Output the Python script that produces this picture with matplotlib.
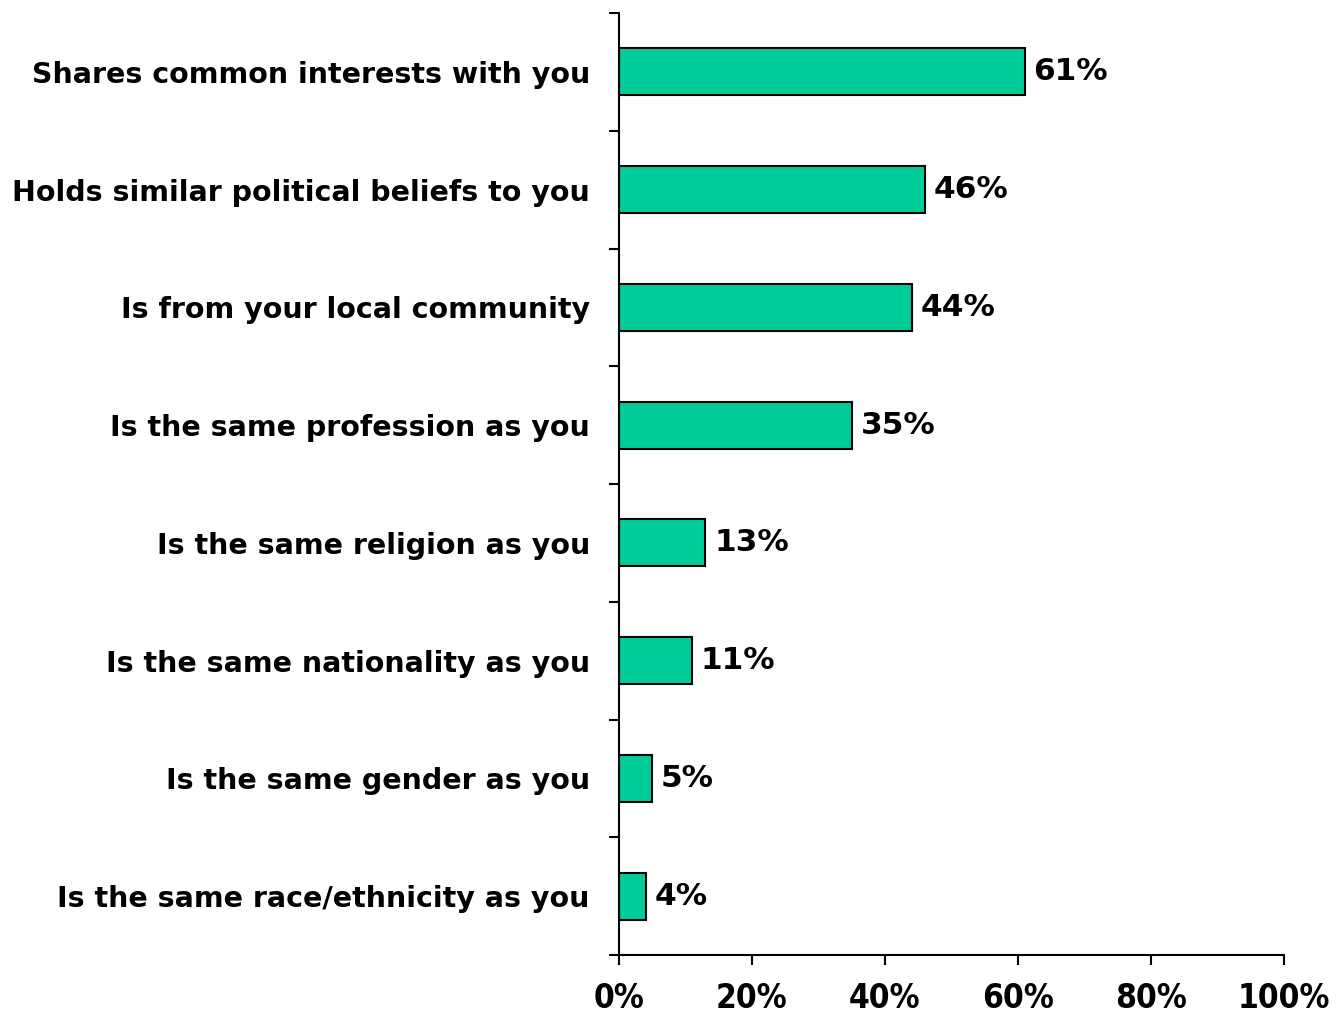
import numpy as np
import matplotlib
matplotlib.use('Agg')
from matplotlib import pyplot as plt
from matplotlib.ticker import FuncFormatter

# 数据
categories = ['Shares common interests with you',
              'Holds similar political beliefs to you',
              'Is from your local community',
              'Is the same profession as you',
              'Is the same religion as you',
              'Is the same nationality as you',
              'Is the same gender as you',
              'Is the same race/ethnicity as you']
values = [61, 46, 44, 35, 13, 11, 5, 4]
xticks = [0, 20, 40, 60, 80, 100]

plt.rcParams['font.family'] = ['DejaVu Sans']
plt.rcParams['font.weight'] = 'bold'

fig = plt.figure(figsize=(13.38, 10.15), dpi=100)
ax = fig.add_axes([619 / 1338, 60 / 1015, 665 / 1338, 942 / 1015])

y = np.arange(len(categories))
ax.barh(y, values, height=0.4, color='#00CC99', edgecolor='black', linewidth=1.5)

for yi, v in zip(y, values):
    ax.text(v + 1.3, yi, '%d%%' % v, va='center', ha='left', fontsize=22.5, fontweight='bold')

ax.set_ylim(len(categories) - 0.5, -0.5)
ax.set_xlim(0, 100)

# 类别标签放在刻度之间
ax.set_yticks(y)
ax.set_yticklabels(categories, fontsize=20.5, fontweight='bold')
ax.set_yticks(np.arange(len(categories) + 1) - 0.5, minor=True)
ax.tick_params(axis='y', which='major', length=0, pad=21)
ax.tick_params(axis='y', which='minor', length=7, width=1.5, direction='out')

ax.set_xticks(xticks)
ax.xaxis.set_major_formatter(FuncFormatter(lambda x, p: '%d%%' % x))
ax.tick_params(axis='x', length=7, width=1.5, direction='out', pad=12.5, labelsize=24)
for lab in ax.get_xticklabels():
    lab.set_fontweight('bold')
    lab.set_fontstretch('condensed')

for s in ['top', 'right']:
    ax.spines[s].set_visible(False)
for s in ['left', 'bottom']:
    ax.spines[s].set_linewidth(1.5)

fig.savefig('out.png', dpi=100)
